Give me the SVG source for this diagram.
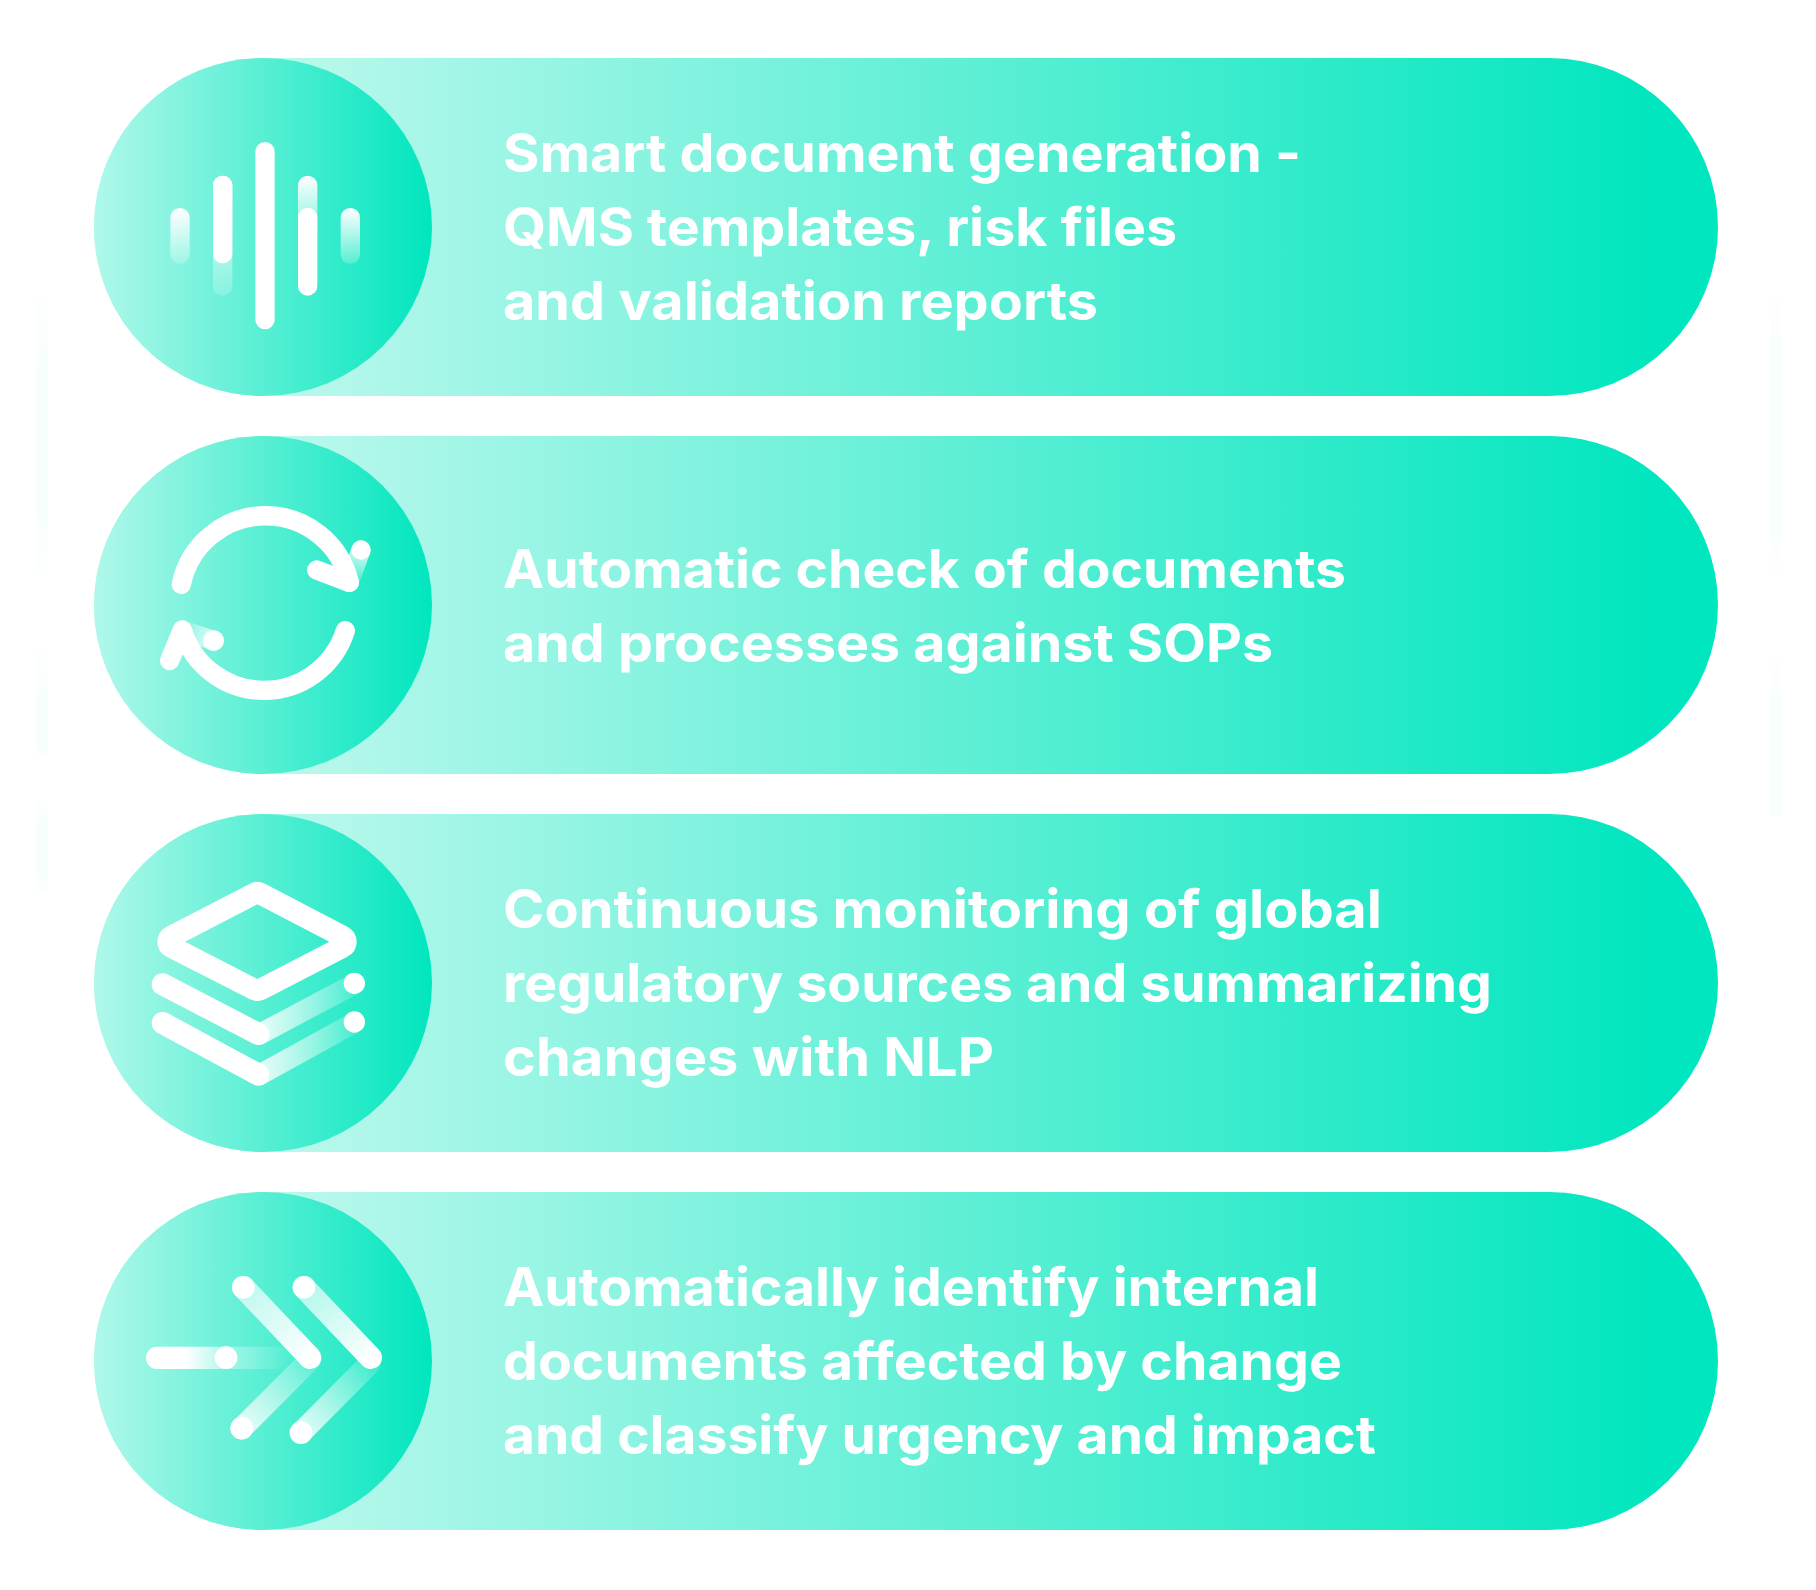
<svg xmlns="http://www.w3.org/2000/svg" width="1816" height="1590" viewBox="0 0 1816 1590">
<style>
.t{font-family:"Inter","Lato","Liberation Sans",sans-serif;font-weight:700;font-size:54px;fill:#fff;font-variant-ligatures:none}
.b{fill:#fff}
.s{fill:none;stroke:#fff;stroke-linecap:round;stroke-linejoin:round}
</style>
<defs>
<linearGradient id="pill" gradientUnits="userSpaceOnUse" x1="300" y1="0" x2="1660" y2="0"><stop offset="0" stop-color="#b8f8ec"/><stop offset="1" stop-color="#00e6be"/></linearGradient>
<linearGradient id="circ" gradientUnits="objectBoundingBox" x1="0" y1="0" x2="1" y2="0"><stop offset="0" stop-color="#b0f8ea"/><stop offset="1" stop-color="#00e6be"/></linearGradient>
<linearGradient id="fadeDown" x1="0" y1="0" x2="0" y2="1"><stop offset="0" stop-color="#fff"/><stop offset="1" stop-color="#fff" stop-opacity=".2"/></linearGradient>
<linearGradient id="fa" x1="0" y1="0" x2="0" y2="1"><stop offset="0" stop-color="#f7fefc" stop-opacity="0"/><stop offset=".3" stop-color="#f7fefc"/><stop offset=".75" stop-color="#f7fefc"/><stop offset="1" stop-color="#f7fefc" stop-opacity="0"/></linearGradient>
<linearGradient id="fb" x1="0" y1="0" x2="0" y2="1"><stop offset="0" stop-color="#f7fefc" stop-opacity="0"/><stop offset=".5" stop-color="#f7fefc"/><stop offset="1" stop-color="#f7fefc"/></linearGradient>
<linearGradient id="g1" gradientUnits="userSpaceOnUse" x1="903" y1="390" x2="868" y2="487"><stop offset="0" stop-color="#fff" stop-opacity=".8"/><stop offset="1" stop-color="#fff" stop-opacity=".1"/></linearGradient>
<linearGradient id="g2" gradientUnits="userSpaceOnUse" x1="461" y1="662" x2="367" y2="630"><stop offset="0" stop-color="#fff" stop-opacity=".8"/><stop offset="1" stop-color="#fff" stop-opacity=".1"/></linearGradient>
<linearGradient id="g3" gradientUnits="userSpaceOnUse" x1="600" y1="0" x2="883" y2="0"><stop offset="0" stop-color="#fff" stop-opacity=".85"/><stop offset="1" stop-color="#fff" stop-opacity=".15"/></linearGradient>
<linearGradient id="g4" gradientUnits="userSpaceOnUse" x1="292" y1="0" x2="700" y2="0"><stop offset="0" stop-color="#fff"/><stop offset=".2" stop-color="#fff"/><stop offset=".55" stop-color="#fff" stop-opacity=".35"/><stop offset="1" stop-color="#fff" stop-opacity="0"/></linearGradient>
<linearGradient id="g5" gradientUnits="userSpaceOnUse" x1="550" y1="322" x2="750" y2="533"><stop offset="0" stop-color="#fff" stop-opacity=".6"/><stop offset="1" stop-color="#fff"/></linearGradient>
<linearGradient id="g6" gradientUnits="userSpaceOnUse" x1="732" y1="322" x2="932" y2="533"><stop offset="0" stop-color="#fff" stop-opacity=".6"/><stop offset="1" stop-color="#fff"/></linearGradient>
<linearGradient id="g7" gradientUnits="userSpaceOnUse" x1="545" y1="745" x2="750" y2="540"><stop offset="0" stop-color="#fff" stop-opacity=".85"/><stop offset="1" stop-color="#fff" stop-opacity=".15"/></linearGradient>
<linearGradient id="g8" gradientUnits="userSpaceOnUse" x1="723" y1="758" x2="930" y2="550"><stop offset="0" stop-color="#fff" stop-opacity=".85"/><stop offset="1" stop-color="#fff" stop-opacity=".15"/></linearGradient>
</defs>
<rect width="1816" height="1590" fill="#fff"/>
<g id="faint">
<rect x="36" y="280" width="12" height="308" rx="6" fill="url(#fa)"/><rect x="36" y="641" width="12" height="114" rx="6" fill="url(#fb)"/><rect x="36" y="793" width="12" height="105" rx="6" fill="url(#fa)"/>
<rect x="1770" y="280" width="12" height="306" rx="6" fill="url(#fa)"/><rect x="1770" y="642" width="12" height="174" rx="6" fill="url(#fb)"/>
</g>
<g id="node1">
<rect x="94" y="58" width="1624" height="338" rx="169" fill="url(#pill)"/>
<circle cx="263" cy="227" r="169" fill="url(#circ)"/>
<g transform="translate(60 30) scale(.33333)">
<rect x="331" y="534" width="58" height="168" rx="29" fill="url(#fadeDown)"/>
<rect x="459" y="437" width="58" height="360" rx="29" fill="url(#fadeDown)" opacity=".9"/>
<rect x="459" y="437" width="58" height="263" rx="29" class="b"/>
<rect x="586" y="336" width="58" height="562" rx="29" class="b"/>
<rect x="714" y="437" width="58" height="200" rx="29" fill="url(#fadeDown)"/>
<rect x="714" y="533" width="58" height="264" rx="29" class="b"/>
<rect x="842" y="534" width="58" height="168" rx="29" fill="url(#fadeDown)"/>
</g>
<text class="t" x="503" y="172" textLength="798" lengthAdjust="spacingAndGlyphs">Smart document generation -</text>
<text class="t" x="503" y="246" textLength="674" lengthAdjust="spacingAndGlyphs">QMS templates, risk files</text>
<text class="t" x="503" y="320" textLength="595" lengthAdjust="spacingAndGlyphs">and validation reports</text>
</g>
<g id="node2">
<rect x="94" y="436" width="1624" height="338" rx="169" fill="url(#pill)"/>
<circle cx="263" cy="605" r="169" fill="url(#circ)"/>
<g transform="translate(60 420) scale(.33333)">
<path class="s" stroke-width="58" d="M364 493A258 258 0 0 1 868 487"/>
<path class="s" stroke-width="58" d="M770 450L868 487"/>
<path class="s" stroke-width="58" d="M903 390L868 487" style="stroke:url(#g1)"/>
<circle cx="903" cy="390" r="29" class="b"/>
<path class="s" stroke-width="58" d="M856 632A256 256 0 0 1 367 630L329 722"/>
<path class="s" stroke-width="58" d="M461 662L367 630" style="stroke:url(#g2)"/>
<circle cx="461" cy="662" r="31" class="b"/>
</g>
<text class="t" x="503" y="588" textLength="843" lengthAdjust="spacingAndGlyphs">Automatic check of documents</text>
<text class="t" x="503" y="662" textLength="770" lengthAdjust="spacingAndGlyphs">and processes against SOPs</text>
</g>
<g id="node3">
<rect x="94" y="814" width="1624" height="338" rx="169" fill="url(#pill)"/>
<circle cx="263" cy="983" r="169" fill="url(#circ)"/>
<g transform="translate(60 800) scale(.33333)">
<path class="b" fill-rule="evenodd" d="M570 251Q592 240 615 251L862 380Q890 396 890 425Q890 455 862 470L615 598Q592 608 570 598L320 470Q292 455 292 425Q292 396 320 380ZM592 313L375 425L592 537L808 425Z"/>
<path class="s" stroke-width="62" d="M600 702L883 552" style="stroke:url(#g3)"/>
<path class="s" stroke-width="62" d="M600 824L883 668" style="stroke:url(#g3)"/>
<path class="s" stroke-width="66" d="M308 553L595 702"/>
<path class="s" stroke-width="66" d="M308 669L595 824"/>
<circle cx="883" cy="550" r="32" class="b"/>
<circle cx="883" cy="666" r="32" class="b"/>
</g>
<text class="t" x="503" y="928" textLength="879" lengthAdjust="spacingAndGlyphs">Continuous monitoring of global</text>
<text class="t" x="503" y="1002" textLength="989" lengthAdjust="spacingAndGlyphs">regulatory sources and summarizing</text>
<text class="t" x="503" y="1076" textLength="491" lengthAdjust="spacingAndGlyphs">changes with NLP</text>
</g>
<g id="node4">
<rect x="94" y="1192" width="1624" height="338" rx="169" fill="url(#pill)"/>
<circle cx="263" cy="1361" r="169" fill="url(#circ)"/>
<g transform="translate(60 1180) scale(.33333)">
<rect x="258" y="500" width="460" height="67" rx="33" fill="url(#g4)"/>
<circle cx="498" cy="533" r="34" class="b"/>
<path class="s" stroke-width="66" d="M545 745L750 540" style="stroke:url(#g7)"/>
<path class="s" stroke-width="66" d="M723 758L930 550" style="stroke:url(#g8)"/>
<path class="s" stroke-width="68" d="M550 322L750 533" style="stroke:url(#g5)"/>
<path class="s" stroke-width="68" d="M732 322L932 533" style="stroke:url(#g6)"/>
<circle cx="550" cy="322" r="34" class="b"/><circle cx="732" cy="322" r="34" class="b"/>
<circle cx="545" cy="745" r="34" class="b"/><circle cx="723" cy="758" r="34" class="b"/>
</g>
<text class="t" x="503" y="1306" textLength="816" lengthAdjust="spacingAndGlyphs">Automatically identify internal</text>
<text class="t" x="503" y="1380" textLength="839" lengthAdjust="spacingAndGlyphs">documents affected by change</text>
<text class="t" x="503" y="1454" textLength="873" lengthAdjust="spacingAndGlyphs">and classify urgency and impact</text>
</g>
<g id="connectors"/>
</svg>
